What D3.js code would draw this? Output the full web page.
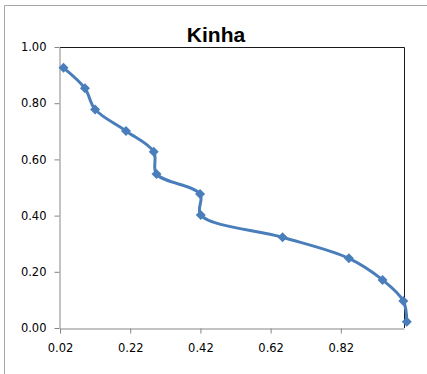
<!DOCTYPE html>
<html>
<head>
<meta charset="utf-8">
<script src="https://cdn.jsdelivr.net/npm/d3@7"></script>
<style>
	body { margin: 0; background: #fff; }
	svg { display: block; }
	.tick-label { font-family: "DejaVu Sans", Verdana, sans-serif; font-size: 11.5px; fill: #000; }
	.title { font-family: "Liberation Sans", Arial, sans-serif; font-weight: bold; font-size: 21px; fill: #000; }
</style>
</head>
<body>
<script>
// chart values
var chartTitle = 'Kinha';
var xValues = [0.03, 0.091, 0.12, 0.208, 0.287, 0.295, 0.419, 0.421, 0.654, 0.843, 0.939, 0.998, 1.008];
var yValues = [0.926, 0.853, 0.778, 0.701, 0.627, 0.548, 0.477, 0.402, 0.323, 0.248, 0.171, 0.096, 0.022];
var xTicks = [0.02, 0.22, 0.42, 0.62, 0.82];
var yTicks = [0, 0.2, 0.4, 0.6, 0.8, 1.0];

var width = 427, height = 374;
var plot = { left: 60, right: 404, top: 47, bottom: 328 };
var lineColor = '#4a7ebb';
var axisColor = '#868686';

var svg = d3.select('body').append('svg')
	.attr('width', width)
	.attr('height', height);

// outer chart border (only top and left show in the crop)
svg.append('path')
	.attr('d', 'M4.5,' + height + 'V5.5H' + width)
	.attr('fill', 'none')
	.attr('stroke', '#a6a6a6')
	.attr('stroke-width', 1);

var x = d3.scaleLinear().domain([0.02, 1.0]).range([plot.left, plot.right]);
var y = d3.scaleLinear().domain([0, 1]).range([plot.bottom, plot.top]);

// plot area: top and right edges dark
svg.append('path')
	.attr('d', 'M' + plot.left + ',' + (plot.top + 0.5) + 'H' + (plot.right + 0.5) + 'V' + plot.bottom)
	.attr('fill', 'none')
	.attr('stroke', '#1a1a1a')
	.attr('stroke-width', 1);

function styleAxis(g) {
	g.select('.domain').attr('stroke', axisColor);
	g.selectAll('.tick line').attr('stroke', axisColor);
	g.selectAll('.tick text').attr('class', 'tick-label').attr('fill', '#000');
}

var xAxis = d3.axisBottom(x)
	.tickValues(xTicks)
	.tickFormat(d3.format('.2f'))
	.tickSizeInner(5)
	.tickSizeOuter(0)
	.tickPadding(10);

svg.append('g')
	.attr('transform', 'translate(0,' + (plot.bottom + 0.5) + ')')
	.call(xAxis)
	.call(styleAxis);

var yAxis = d3.axisLeft(y)
	.tickValues(yTicks)
	.tickFormat(d3.format('.2f'))
	.tickSizeInner(5)
	.tickSizeOuter(0)
	.tickPadding(8);

svg.append('g')
	.attr('transform', 'translate(' + (plot.left - 0.5) + ',0)')
	.call(yAxis)
	.call(styleAxis);

svg.append('text')
	.attr('class', 'title')
	.attr('x', 216)
	.attr('y', 42)
	.attr('text-anchor', 'middle')
	.text(chartTitle);

var points = xValues.map(function (v, i) {
	return [v, yValues[i]];
});

var line = d3.line()
	.x(function (d) { return x(d[0]); })
	.y(function (d) { return y(d[1]); })
	.curve(d3.curveCatmullRom.alpha(0.5));

svg.append('path')
	.datum(points)
	.attr('d', line)
	.attr('fill', 'none')
	.attr('stroke', lineColor)
	.attr('stroke-width', 3)
	.attr('stroke-linejoin', 'round');

// excel style diamond: a square turned 45 degrees
var diamond = 'M0,-5L5,0L0,5L-5,0Z';

svg.append('g')
	.selectAll('path')
	.data(points)
	.join('path')
	.attr('transform', function (d) { return 'translate(' + x(d[0]) + ',' + y(d[1]) + ')'; })
	.attr('d', diamond)
	.attr('fill', lineColor);
</script>
</body>
</html>
